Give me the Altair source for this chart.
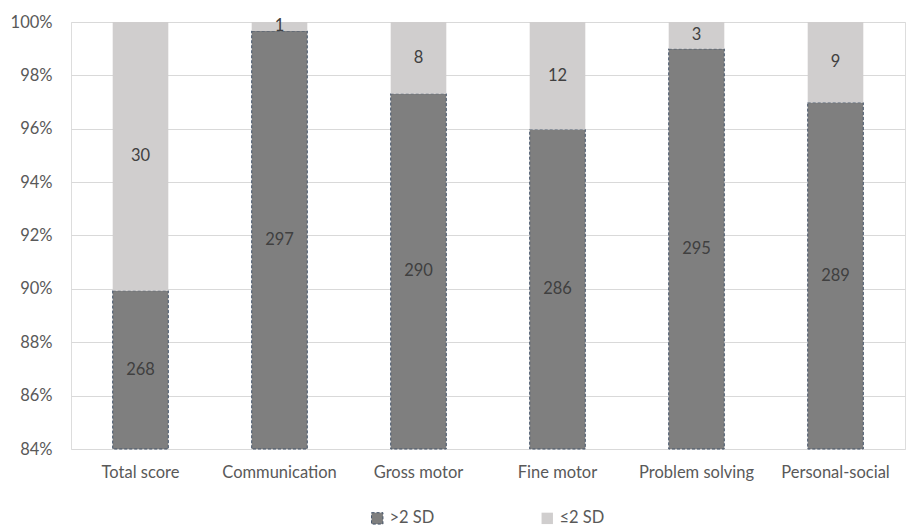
import altair as alt
import pandas as pd

categories = ["Total score", "Communication", "Gross motor", "Fine motor", "Problem solving", "Personal-social"]
above_2sd = [268, 297, 290, 286, 295, 289]
below_2sd = [30, 1, 8, 12, 3, 9]
groups = [">2 SD", "≤2 SD"]

rows = []
for c, a, b in zip(categories, above_2sd, below_2sd):
    tot = a + b
    rows.append({"category": c, "group": groups[0], "count": a, "ord": 0,
                 "mid": (0.84 + a / tot) / 2})
    rows.append({"category": c, "group": groups[1], "count": b, "ord": 1,
                 "mid": 1 - (b / tot) / 2})
df = pd.DataFrame(rows)

FONT = "Lato"
FS = 16.5
xenc = alt.X("category:N", sort=categories, title=None,
             scale=alt.Scale(paddingInner=0.6, paddingOuter=0.3),
             axis=alt.Axis(labelAngle=0, labelFontSize=FS, labelColor="#595959",
                           labelPadding=15, domain=False, ticks=False, labelFont=FONT))

leg = dict(orient="none", legendX=298, legendY=488, direction="horizontal",
           symbolType="square", symbolSize=130, labelFontSize=FS,
           labelColor="#595959", columnPadding=104, labelFont=FONT,
           symbolDash=[3, 2], symbolStrokeWidth=1)

bars = alt.Chart(df).mark_bar(strokeDash=[3, 2], strokeWidth=1).encode(
    x=xenc,
    y=alt.Y("count:Q", stack="normalize", title=None,
            scale=alt.Scale(domain=[0.84, 1.0], clamp=True, nice=False),
            axis=alt.Axis(format=".0%", values=[0.84, 0.86, 0.88, 0.90, 0.92, 0.94, 0.96, 0.98, 1.0],
                          labelFontSize=FS, labelColor="#595959", labelPadding=19,
                          domain=False, ticks=False, gridColor="#d9d9d9", labelFont=FONT)),
    color=alt.Color("group:N", sort=groups, title=None,
                    scale=alt.Scale(domain=groups, range=["#7f7f7f", "#d0cece"]),
                    legend=alt.Legend(**leg)),
    stroke=alt.Stroke("group:N", sort=groups, title=None,
                      scale=alt.Scale(domain=groups, range=["#44546a", "transparent"]),
                      legend=alt.Legend(**leg)),
    order=alt.Order("ord:Q"),
)

labels = alt.Chart(df).mark_text(fontSize=FS, color="#404040", font=FONT).encode(
    x=alt.X("category:N", sort=categories),
    y=alt.Y("mid:Q"),
    text=alt.Text("count:Q"),
)

chart = alt.layer(bars, labels).properties(
    width=834, height=427,
    autosize=alt.AutoSizeParams(type="none"),
    padding={"left": 71, "top": 22, "right": 2, "bottom": 77},
).configure_view(stroke=None).configure(background="white")

chart.save("out.html", embed_options={"renderer": "svg", "actions": False})
